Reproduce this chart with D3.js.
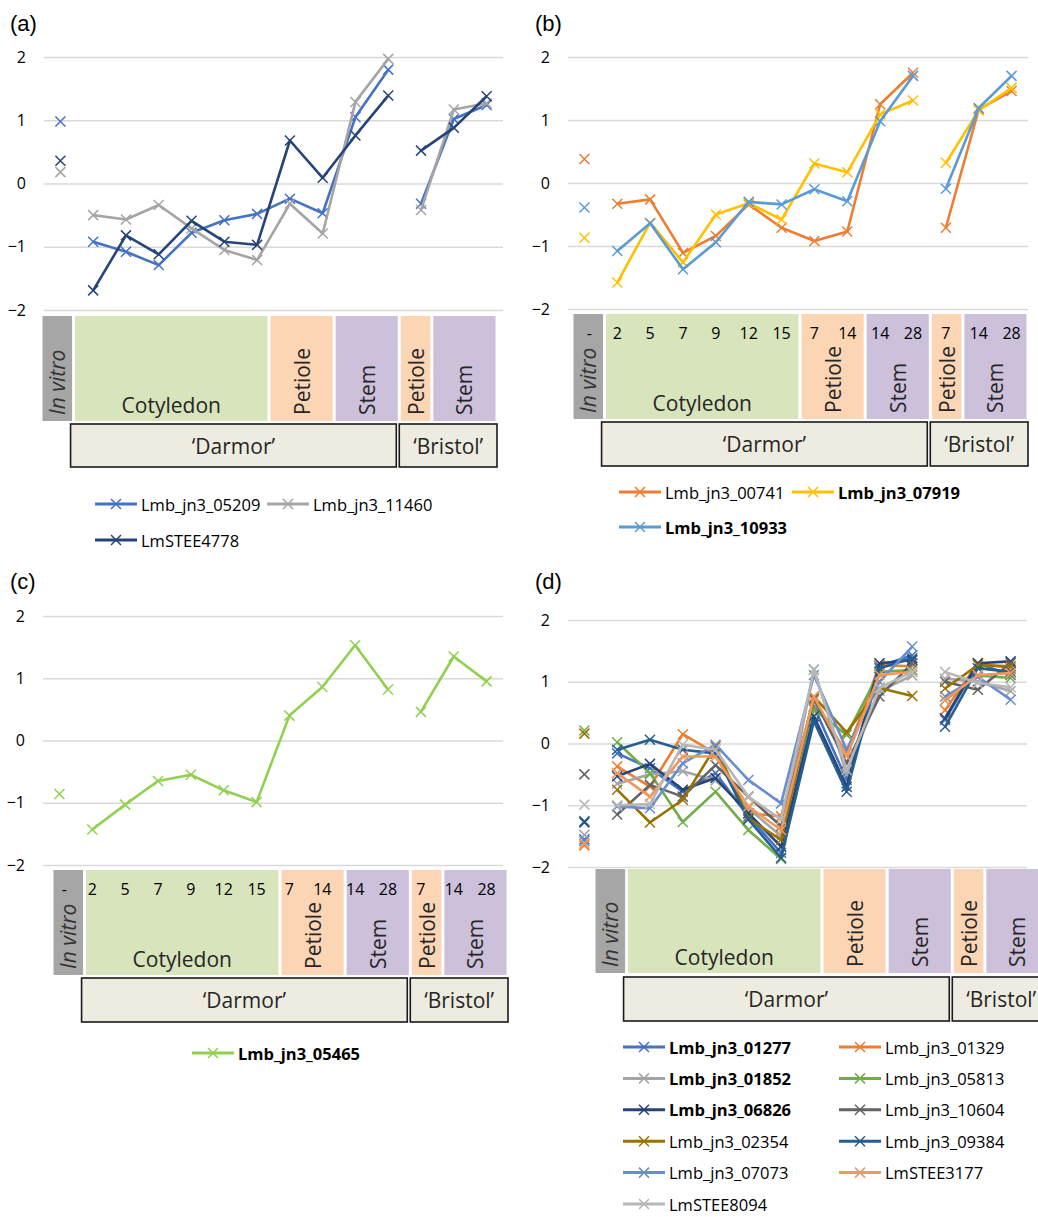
<!DOCTYPE html>
<html>
<head>
<meta charset="utf-8">
<script src="https://cdn.jsdelivr.net/npm/d3@7"></script>
<style>
  body { margin: 0; background: #fff; }
  svg { display: block; font-family: "Open Sans", sans-serif; }
</style>
</head>
<body>
<div id="chart"></div>
<script>
// categories along x (in vitro, Darmor cotyledon/petiole/stem, Bristol petiole/stem)
const categories = ["iv", "c2", "c5", "c7", "c9", "c12", "c15", "p7", "p14", "s14", "s28", "bp7", "bs14", "bs28"];
const dayLabels = ["-", "2", "5", "7", "9", "12", "15", "7", "14", "14", "28", "7", "14", "28"];
const yTicks = [-2, -1, 0, 1, 2];
const tissueNames = ["In vitro", "Cotyledon", "Petiole", "Stem", "Petiole", "Stem"];
const tissueSpans = [[0, 1], [1, 7], [7, 9], [9, 11], [11, 12], [12, 14]];
const cultivarNames = ["\u2018Darmor\u2019", "\u2018Bristol\u2019"];
const cultivarSpans = [[1, 11], [11, 14]];
// segments that are joined by a line
const segments = [[0, 0], [1, 10], [11, 13]];

// (a)
const namesA = ["Lmb_jn3_05209", "Lmb_jn3_11460", "LmSTEE4778"];
const a_05209 = [0.98, -0.92, -1.08, -1.29, -0.78, -0.58, -0.48, -0.24, -0.47, 1.05, 1.80, -0.32, 1.02, 1.24];
const a_11460 = [0.18, -0.50, -0.57, -0.34, -0.71, -1.05, -1.21, -0.32, -0.79, 1.29, 1.97, -0.42, 1.17, 1.27];
const a_4778  = [0.36, -1.69, -0.82, -1.12, -0.59, -0.92, -0.97, 0.68, 0.09, 0.76, 1.39, 0.52, 0.88, 1.38];

// (b)
const namesB = ["Lmb_jn3_00741", "Lmb_jn3_07919", "Lmb_jn3_10933"];
const b_00741 = [0.38, -0.33, -0.26, -1.11, -0.84, -0.34, -0.71, -0.92, -0.77, 1.25, 1.75, -0.71, 1.17, 1.46];
const b_07919 = [-0.87, -1.58, -0.63, -1.26, -0.50, -0.32, -0.58, 0.31, 0.17, 1.09, 1.31, 0.32, 1.15, 1.51];
const b_10933 = [-0.39, -1.08, -0.64, -1.37, -0.94, -0.30, -0.34, -0.10, -0.29, 0.98, 1.70, -0.09, 1.19, 1.70];

// (c)
const namesC = ["Lmb_jn3_05465"];
const c_05465 = [-0.86, -1.43, -1.03, -0.65, -0.55, -0.80, -0.99, 0.40, 0.86, 1.53, 0.82, 0.46, 1.35, 0.95];

// (d)
const namesD = ["Lmb_jn3_01277", "Lmb_jn3_01329", "Lmb_jn3_01852", "Lmb_jn3_05813", "Lmb_jn3_06826", "Lmb_jn3_10604",
                "Lmb_jn3_02354", "Lmb_jn3_09384", "Lmb_jn3_07073", "LmSTEE3177", "LmSTEE8094"];
const d_01277 = [-1.55, -0.16, -0.40, -0.78, -0.48, -1.18, -1.77, 0.60, -0.59, 1.25, 1.43, 0.38, 1.30, 1.11];
const d_01329 = [-1.65, -0.37, -0.70, 0.15, -0.16, -1.13, -1.18, 0.70, -0.16, 1.27, 1.25, 0.54, 1.30, 1.22];
const d_01852 = [-1.48, -0.65, -0.50, -0.45, -0.60, -1.05, -1.50, 1.20, -0.50, 0.85, 1.10, 1.05, 1.00, 0.85];
const d_05813 = [0.21, 0.02, -0.48, -1.27, -0.78, -1.40, -1.87, 0.55, 0.14, 1.16, 1.19, 0.70, 1.10, 1.06];
const d_06826 = [-1.28, -0.53, -0.33, -0.75, -0.56, -1.13, -1.67, 0.44, -0.70, 1.30, 1.35, 0.41, 1.30, 1.33];
const d_10604 = [-0.50, -1.15, -0.67, -0.86, -0.35, -0.86, -1.34, 0.73, -0.32, 0.76, 1.30, 1.00, 0.87, 1.30];
const d_02354 = [0.16, -0.75, -1.28, -0.91, -0.05, -1.21, -1.56, 0.76, 0.18, 0.90, 0.77, 0.89, 1.27, 1.25];
const d_09384 = [-1.26, -0.10, 0.06, -0.10, -0.16, -1.23, -1.85, 0.36, -0.78, 1.22, 1.38, 0.27, 1.22, 1.16];
const d_07073 = [-1.58, -1.02, -1.05, -0.32, -0.02, -0.59, -0.97, 1.11, -0.10, 1.00, 1.57, 0.76, 1.08, 0.71];
const d_3177  = [-1.62, -0.48, -0.86, -0.21, -0.21, -1.02, -1.40, 0.76, -0.21, 1.11, 1.16, 0.70, 1.11, 1.14];
const d_8094  = [-0.99, -1.00, -0.98, -0.02, -0.10, -0.86, -1.23, 1.19, -0.43, 0.90, 1.16, 1.16, 0.98, 0.91];

const tissueFill = ["#a6a6a6", "#d8e4bc", "#fcd5b4", "#ccc0da", "#fcd5b4", "#ccc0da"];

const panels = [
  { label: "(a)", lx: 10, ly: 31, left: 44, right: 503, top: 57, bottom: 310,
    boxL: 41, boxR: 497, boxTop: 316, boxBot: 421, cultTop: 424, cultBot: 467, days: false,
    series: [a_05209, a_11460, a_4778], names: namesA, bold: [false, false, false],
    colors: ["#4472c4", "#a5a5a5", "#264478"],
    legX: [95, 267], legY: 504, legDy: 36 },
  { label: "(b)", lx: 535, ly: 31, left: 568, right: 1028, top: 57, bottom: 309,
    boxL: 572, boxR: 1028, boxTop: 314, boxBot: 419, cultTop: 422, cultBot: 466, days: true,
    series: [b_00741, b_07919, b_10933], names: namesB, bold: [false, true, true],
    colors: ["#ed7d31", "#ffc000", "#5b9bd5"],
    legX: [619, 792], legY: 492, legDy: 35 },
  { label: "(c)", lx: 10, ly: 589, left: 43, right: 503, top: 616, bottom: 865,
    boxL: 52, boxR: 508, boxTop: 870, boxBot: 975, cultTop: 978, cultBot: 1022, days: true,
    series: [c_05465], names: namesC, bold: [true],
    colors: ["#92d050"],
    legX: [192], legY: 1053, legDy: 35 },
  { label: "(d)", lx: 535, ly: 589, left: 568, right: 1027, top: 620, bottom: 867,
    boxL: 594, boxR: 1050, boxTop: 869, boxBot: 973, cultTop: 977, cultBot: 1021, days: false,
    series: [d_01277, d_01329, d_01852, d_05813, d_06826, d_10604, d_02354, d_09384, d_07073, d_3177, d_8094],
    names: namesD, bold: [true, false, true, false, true, false, false, false, false, false, false],
    colors: ["#4472c4", "#ed7d31", "#a5a5a5", "#70ad47", "#264478", "#636363",
             "#997300", "#255e91", "#698ed0", "#f1975a", "#b7b7b7"],
    legX: [623, 839], legY: 1047, legDy: 31.4 }
];

const svg = d3.select("#chart").append("svg")
  .attr("width", 1038).attr("height", 1217);

const xMark = "M-5,-5L5,5M-5,5L5,-5";
const textColor = "#262626";

panels.forEach(p => {
  const g = svg.append("g");

  const x = d3.scaleBand().domain(categories).range([p.left, p.right]);
  const y = d3.scaleLinear().domain([-2, 2]).range([p.bottom, p.top]);
  const bx = d3.scaleLinear().domain([0, categories.length]).range([p.boxL, p.boxR]);
  const cx = i => x(categories[i]) + x.bandwidth() / 2;

  g.append("text")
    .attr("x", p.lx).attr("y", p.ly)
    .style("font-family", "'Liberation Sans', Arial, sans-serif")
    .style("font-size", "22px").attr("fill", "#000")
    .text(p.label);

  // gridlines + tick labels
  const yAxis = d3.axisLeft(y).tickValues(yTicks)
    .tickSize(-(p.right - p.left)).tickPadding(18)
    .tickFormat(d3.format("d"));
  const ax = g.append("g").attr("transform", `translate(${p.left},0)`).call(yAxis);
  ax.select(".domain").remove();
  ax.selectAll(".tick line").attr("stroke", "#d9d9d9").attr("stroke-width", 1.3);
  ax.selectAll(".tick text")
    .style("font-family", "'Open Sans', sans-serif")
    .style("font-size", "16px").attr("fill", "#000");

  // tissue boxes
  tissueSpans.forEach((s, i) => {
    const x0 = bx(s[0]) + 1.5, x1 = bx(s[1]) - 1.5;
    g.append("rect").attr("x", x0).attr("y", p.boxTop)
      .attr("width", x1 - x0).attr("height", p.boxBot - p.boxTop)
      .attr("fill", tissueFill[i]);
    const mid = (x0 + x1) / 2;
    if (i === 1) {
      g.append("text").attr("x", mid).attr("y", p.boxBot - 8)
        .attr("text-anchor", "middle").style("font-size", "21px")
        .attr("fill", textColor).text(tissueNames[i]);
    } else {
      g.append("text")
        .attr("transform", `translate(${mid},${p.boxBot - 6}) rotate(-90)`)
        .attr("text-anchor", "start").attr("dominant-baseline", "central")
        .style("font-size", "21px")
        .style("font-style", i === 0 ? "italic" : "normal")
        .attr("fill", i === 0 ? "#333" : textColor)
        .text(tissueNames[i]);
    }
  });

  // day labels
  if (p.days) {
    dayLabels.forEach((d, i) => {
      g.append("text").attr("x", i === 0 ? cx(i) + 5 : cx(i)).attr("y", p.boxTop + 19)
        .attr("text-anchor", "middle").attr("dominant-baseline", "central")
        .style("font-size", "16px").attr("fill", "#000").text(d);
    });
  }

  // cultivar boxes
  cultivarSpans.forEach((s, i) => {
    const x0 = i === 0 ? bx(s[0]) - 3 : bx(s[0]);
    const x1 = i === 0 ? bx(s[1]) - 3 : bx(s[1]);
    g.append("rect").attr("x", x0).attr("y", p.cultTop)
      .attr("width", x1 - x0).attr("height", p.cultBot - p.cultTop)
      .attr("fill", "#eeece1").attr("stroke", "#1a1a1a").attr("stroke-width", 1.6);
    g.append("text").attr("x", (x0 + x1) / 2).attr("y", (p.cultTop + p.cultBot) / 2)
      .attr("text-anchor", "middle").attr("dominant-baseline", "central")
      .style("font-size", "21px").attr("fill", textColor).text(cultivarNames[i]);
  });

  // series
  const line = d3.line().x(d => cx(d[0])).y(d => y(d[1]));
  p.series.forEach((vals, si) => {
    const col = p.colors[si];
    const sg = g.append("g");
    segments.forEach(([s, e]) => {
      if (e > s) {
        const pts = d3.range(s, e + 1).map(i => [i, vals[i]]);
        sg.append("path").attr("d", line(pts))
          .attr("fill", "none").attr("stroke", col)
          .attr("stroke-width", 2.6).attr("stroke-linejoin", "round");
      }
    });
    sg.selectAll("path.mk").data(vals).enter().append("path")
      .attr("class", "mk")
      .attr("transform", (d, i) => `translate(${cx(i)},${y(d)})`)
      .attr("d", xMark).attr("stroke", col).attr("stroke-width", 1.5).attr("fill", "none");
  });

  // legend
  const nCols = p.legX.length;
  p.names.forEach((n, i) => {
    const lx = p.legX[i % nCols];
    const ly = p.legY + Math.floor(i / nCols) * p.legDy;
    const lg = g.append("g").attr("transform", `translate(${lx},${ly})`);
    lg.append("line").attr("x1", 0).attr("x2", 42).attr("y1", 0).attr("y2", 0)
      .attr("stroke", p.colors[i]).attr("stroke-width", 3);
    lg.append("path").attr("d", xMark).attr("transform", "translate(21,0)")
      .attr("stroke", p.colors[i]).attr("stroke-width", 1.5).attr("fill", "none");
    lg.append("text").attr("x", 46).attr("y", 0).attr("dominant-baseline", "central")
      .style("font-size", "16.5px").style("font-weight", p.bold[i] ? "bold" : "normal")
      .attr("fill", "#000").text(n);
  });
});
</script>
</body>
</html>
